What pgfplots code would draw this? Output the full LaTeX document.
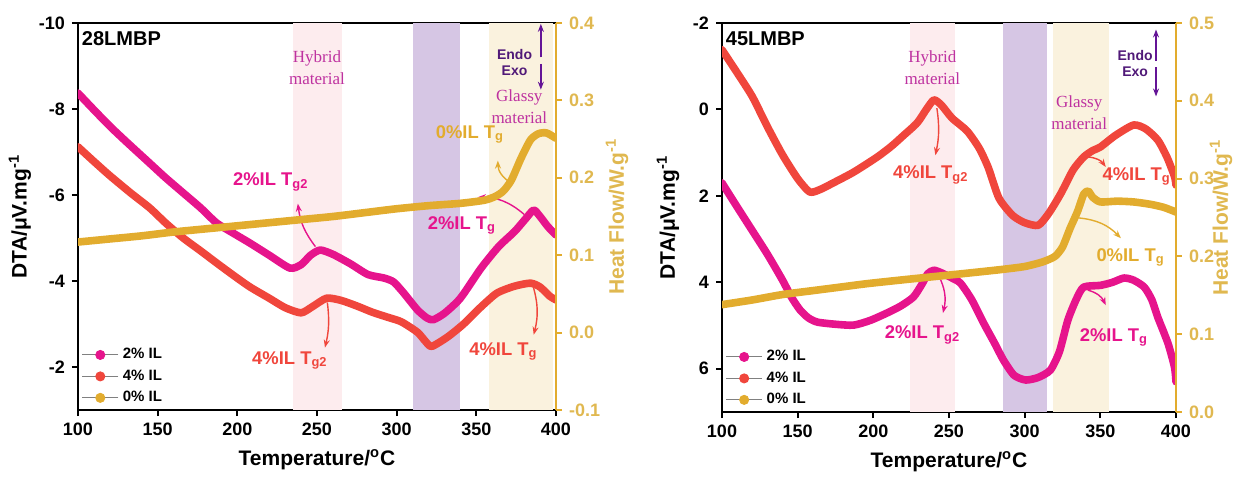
\documentclass[border=0pt]{standalone}
\usepackage{fontspec}
\setmainfont{Liberation Sans}
\newfontfamily\serifont{Liberation Serif}
\usepackage{pgfplots}
\pgfplotsset{compat=1.18}
\usetikzlibrary{arrows.meta}
\definecolor{pinkc}{RGB}{230,20,140}
\definecolor{redc}{RGB}{240,70,60}
\definecolor{goldc}{RGB}{226,172,46}
\definecolor{goldt}{RGB}{224,184,80}
\definecolor{hybc}{RGB}{253,236,238}
\definecolor{purc}{RGB}{214,198,228}
\definecolor{glsc}{RGB}{250,242,222}
\definecolor{annc}{RGB}{190,50,160}
\definecolor{endoc}{RGB}{80,25,120}
\definecolor{arrc}{RGB}{100,20,150}
\pgfplotsset{
  base/.style={scale only axis, xmin=100, xmax=400,
    /pgf/number format/assume math mode=true,
    tick label style={font=\fontsize{9}{10}\selectfont\bfseries},
    label style={font=\fontsize{10.5}{12}\selectfont\bfseries},
    tick align=outside, major tick length=3pt},
  mainax/.style={base, y dir=reverse, xtick={100,150,...,400},
    xtick pos=bottom, ytick pos=left,
    every tick/.style={black, line width=1pt},
    axis line style={line width=1.1pt},
    xlabel={Temperature/\textsuperscript{o}C},
    ylabel={DTA/μV.mg\textsuperscript{-1}}},
  twinax/.style={base, axis y line*=right, axis x line=none,
    y axis line style={goldc, line width=1.1pt},
    every tick/.style={goldc, line width=1pt},
    yticklabel style={goldt, /pgf/number format/.cd, fixed, fixed zerofill, precision=1},
    ylabel={Heat Flow/W.g\textsuperscript{-1}}, ylabel style={goldt},
    legend style={at={(0.005,0.0)}, anchor=south west, draw=none, fill=none,
      font=\fontsize{7.5}{8.5}\selectfont\bfseries, row sep=0pt, inner sep=0.5pt},
    legend cell align=left,
    legend image code/.code={\draw[gray, line width=0.5pt] (0pt,0pt) -- (18pt,0pt);
      \fill (9pt,0pt) circle (2.3pt);}},
  crv/.style={line width=3.8pt, smooth, tension=0.4, line join=round, line cap=round}
}
\tikzset{
  ann/.style={font=\fontsize{9.2}{10}\selectfont\bfseries},
  mat/.style={font=\fontsize{8.5}{10}\selectfont\serifont, text=annc, align=center},
  aarr/.style={-{Stealth[length=4pt,width=3pt]}, line width=0.7pt}
}
\begin{document}
\begin{tikzpicture}
\useasboundingbox (0,0) rectangle (619.5pt,238.5pt);
% ---------------- Left panel: 28LMBP ----------------
\begin{axis}[mainax, at={(39pt,33.5pt)}, anchor=south west, width=239pt, height=193.5pt,
  ymin=-10, ymax=-1, ytick={-10,-8,-6,-4,-2}, ylabel shift=-3pt]
\fill[hybc] (axis cs:235,-10) rectangle (axis cs:266,-1);
\fill[purc] (axis cs:310,-10) rectangle (axis cs:340,-1);
\fill[glsc] (axis cs:358,-10) rectangle (axis cs:398,-1);
\addplot[crv, pinkc] coordinates {
(100,-8.37) (110,-7.98) (120,-7.6) (130,-7.25) (145,-6.74) (155,-6.4) (166,-6.05)
(177,-5.7) (187,-5.35) (198,-5.1) (208,-4.88) (220,-4.6) (233,-4.3) (240,-4.38)
(246,-4.6) (252,-4.72) (260,-4.62) (271,-4.4) (282,-4.15) (292,-4.07) (298,-3.98)
(304,-3.74) (313,-3.33) (319,-3.14) (323,-3.1) (330,-3.25) (340,-3.6) (353,-4.3)
(364,-4.8) (374,-5.15) (381,-5.45) (386,-5.65) (390,-5.5) (395,-5.26) (400,-5.07)};
\addplot[crv, redc] coordinates {
(100,-7.12) (110,-6.78) (120,-6.45) (133,-6.05) (145,-5.7) (155,-5.35) (166,-5.0)
(177,-4.7) (187,-4.42) (198,-4.12) (208,-3.86) (220,-3.6) (230,-3.38) (240,-3.26)
(247,-3.4) (256,-3.6) (265,-3.55) (275,-3.42) (285,-3.27) (295,-3.15) (303,-3.05)
(313,-2.81) (318,-2.6) (322,-2.48) (332,-2.7) (342,-3.0) (353,-3.4) (363,-3.72)
(374,-3.88) (384,-3.95) (390,-3.86) (396,-3.65) (400,-3.56)};
\node[anchor=north west, font=\fontsize{10}{11}\selectfont\bfseries, inner sep=1pt] at (axis cs:101,-9.85) {28LMBP};
\node[mat] at (axis cs:250,-8.95) {Hybrid\\[1pt]material};
\node[mat] at (axis cs:377,-8.05) {Glassy\\[1pt]material};
\node[font=\fontsize{7}{8}\selectfont\bfseries, text=endoc, align=center] at (axis cs:374,-9.08) {Endo\\Exo};
\draw[arrc, -{Stealth[length=4pt,width=3pt]}, line width=0.9pt] (axis cs:390.5,-9.2) -- (axis cs:390.5,-9.98);
\draw[arrc, -{Stealth[length=4pt,width=3pt]}, line width=0.9pt] (axis cs:390.5,-9.05) -- (axis cs:390.5,-8.45);
\node[ann, text=goldc] at (axis cs:346,-7.4) {0\%IL T\textsubscript{g}};
\draw[aarr, goldc] (axis cs:372,-6.28) to[bend left=30] (axis cs:363.5,-6.8);
\node[ann, text=pinkc] at (axis cs:341,-5.3) {2\%IL T\textsubscript{g}};
\draw[aarr, pinkc] (axis cs:380,-5.55) to[bend right=20] (axis cs:351,-5.95);
\node[ann, text=redc] at (axis cs:367,-2.35) {4\%IL T\textsubscript{g}};
\draw[aarr, redc] (axis cs:385.5,-3.9) to[bend left=15] (axis cs:386,-2.75);
\node[ann, text=pinkc] at (axis cs:221,-6.3) {2\%IL T\textsubscript{g2}};
\draw[aarr, pinkc] (axis cs:249,-4.8) to[bend left=15] (axis cs:238,-5.8);
\node[ann, text=redc] at (axis cs:233,-2.15) {4\%IL T\textsubscript{g2}};
\draw[aarr, redc] (axis cs:256.5,-3.5) to[bend left=10] (axis cs:255,-2.45);
\end{axis}
\begin{axis}[twinax, at={(39pt,33.5pt)}, anchor=south west, width=239pt, height=193.5pt,
  ymin=-0.1, ymax=0.4, ytick={-0.1,0,0.1,0.2,0.3,0.4}, ylabel shift=-4pt]
\addlegendimage{pinkc, fill=pinkc}\addlegendentry{2\% IL}
\addlegendimage{redc, fill=redc}\addlegendentry{4\% IL}
\addlegendimage{goldc, fill=goldc}\addlegendentry{0\% IL}
\addplot[crv, goldc, forget plot] coordinates {
(100,0.117) (120,0.121) (140,0.125) (160,0.130) (180,0.134) (200,0.138) (220,0.142)
(240,0.146) (260,0.150) (280,0.155) (300,0.160) (320,0.164) (340,0.167) (355,0.171)
(362,0.176) (367,0.183) (372,0.197) (378,0.225) (384,0.249) (389,0.257) (394,0.258) (400,0.251)};
\end{axis}
% ---------------- Right panel: 45LMBP ----------------
\begin{axis}[mainax, at={(361pt,32.5pt)}, anchor=south west, width=227pt, height=194.5pt,
  ymin=-2, ymax=7, ytick={-2,0,2,4,6}]
\fill[hybc] (axis cs:224.5,-2) rectangle (axis cs:254,7);
\fill[purc] (axis cs:286,-2) rectangle (axis cs:315,7);
\fill[glsc] (axis cs:318.5,-2) rectangle (axis cs:356,7);
\addplot[crv, redc] coordinates {
(100,-1.38) (110,-0.85) (120,-0.3) (130,0.4) (140,1.05) (150,1.6) (158,1.91) (165,1.85)
(173.5,1.7) (187,1.45) (202.6,1.1) (212,0.85) (220,0.6) (229,0.31) (235,0.0) (240,-0.22)
(245,-0.1) (252,0.2) (262,0.5) (270,0.9) (276,1.35) (283,2.05) (292,2.45) (300,2.62)
(309,2.68) (316,2.4) (324,1.94) (332,1.4) (339,1.1) (345,0.95) (350,0.87) (360,0.6)
(372,0.36) (380,0.45) (388,0.71) (394,1.1) (399,1.55) (400,1.75)};
\addplot[crv, pinkc] coordinates {
(100,1.7) (109,2.2) (118.5,2.72) (130,3.35) (140,3.95) (146,4.35) (151.6,4.64) (157,4.82)
(163,4.92) (175,4.97) (187,4.99) (198,4.88) (209,4.71) (218,4.55) (226.5,4.34) (232,4.05)
(236,3.8) (240,3.72) (245,3.78) (252,3.9) (257.6,4.02) (265,4.4) (273,4.95) (280,5.4)
(286,5.8) (293,6.15) (300.7,6.26) (309,6.2) (317,6.03) (323,5.6) (328.5,4.88) (334,4.4)
(339,4.11) (350,4.07) (358,4.0) (365.6,3.9) (372,3.95) (379,4.11) (384,4.4) (388,4.81)
(394.7,5.41) (399,5.96) (400,6.3)};
\node[anchor=north west, font=\fontsize{10}{11}\selectfont\bfseries, inner sep=1pt] at (axis cs:101,-1.85) {45LMBP};
\node[mat] at (axis cs:239,-0.97) {Hybrid\\[1pt]material};
\node[mat] at (axis cs:336,0.07) {Glassy\\[1pt]material};
\node[font=\fontsize{7}{8}\selectfont\bfseries, text=endoc, align=center] at (axis cs:373,-1.06) {Endo\\Exo};
\draw[arrc, -{Stealth[length=4pt,width=3pt]}, line width=0.9pt] (axis cs:386.8,-1.12) -- (axis cs:386.8,-1.85);
\draw[arrc, -{Stealth[length=4pt,width=3pt]}, line width=0.9pt] (axis cs:386.8,-0.98) -- (axis cs:386.8,-0.3);
\node[ann, text=redc] at (axis cs:238,1.52) {4\%IL T\textsubscript{g2}};
\draw[aarr, redc] (axis cs:242,-0.03) to[bend left=10] (axis cs:241,1.06);
\node[ann, text=pinkc] at (axis cs:232.5,5.22) {2\%IL T\textsubscript{g2}};
\draw[aarr, pinkc] (axis cs:243,3.83) to[bend left=20] (axis cs:246,4.71);
\node[ann, text=redc] at (axis cs:374,1.56) {4\%IL T\textsubscript{g}};
\draw[aarr, redc] (axis cs:341.7,1.1) to[bend left=25] (axis cs:353.6,1.33);
\node[ann, text=goldc] at (axis cs:370,3.42) {0\%IL T\textsubscript{g}};
\draw[aarr, goldc] (axis cs:335.8,2.51) to[bend left=20] (axis cs:363.6,2.98);
\node[ann, text=pinkc] at (axis cs:359,5.27) {2\%IL T\textsubscript{g}};
\draw[aarr, pinkc] (axis cs:341.7,4.18) to[bend left=25] (axis cs:353.6,4.53);
\end{axis}
\begin{axis}[twinax, at={(361pt,32.5pt)}, anchor=south west, width=227pt, height=194.5pt,
  ymin=0, ymax=0.5, ytick={0,0.1,0.2,0.3,0.4,0.5}, ylabel shift=-9pt]
\addlegendimage{pinkc, fill=pinkc}\addlegendentry{2\% IL}
\addlegendimage{redc, fill=redc}\addlegendentry{4\% IL}
\addlegendimage{goldc, fill=goldc}\addlegendentry{0\% IL}
\addplot[crv, goldc, forget plot] coordinates {
(100,0.138) (120,0.144) (140,0.151) (160,0.156) (180,0.161) (196,0.165) (220,0.170)
(240,0.174) (260,0.178) (284,0.183) (300,0.187) (312,0.193) (320,0.200) (325,0.212)
(330,0.236) (335,0.258) (339,0.280) (342,0.284) (345,0.276) (350,0.270) (361,0.271)
(372,0.270) (383,0.267) (392,0.263) (400,0.257)};
\end{axis}
\end{tikzpicture}
\end{document}
